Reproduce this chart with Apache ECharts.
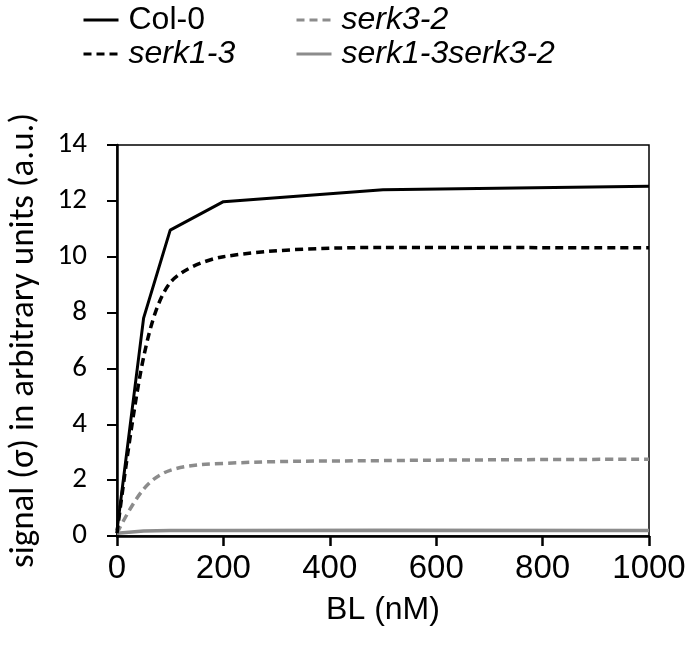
<!DOCTYPE html>
<html>
<head>
<meta charset="utf-8">
<script src="https://cdn.jsdelivr.net/npm/echarts@6/dist/echarts.min.js"></script>
<style>html,body{margin:0;padding:0;background:#fff}#c{width:697px;height:657px}</style>
</head>
<body>
<div id="c"></div>
<script>
const doses = [0, 50, 100, 200, 500, 1000];
const col0 = [0.2, 7.8, 10.95, 11.97, 12.4, 12.52];
const serk13 = [0.1, 6.4, 9.07, 10.0, 10.33, 10.32];
const serk32 = [0.1, 1.68, 2.35, 2.6, 2.7, 2.75];
const serk13serk32 = [0.1, 0.18, 0.2, 0.2, 0.21, 0.2];
const xTicks = [0, 200, 400, 600, 800, 1000];
const yTicks = [0, 2, 4, 6, 8, 10, 12, 14];

const pairs = v => doses.map((d, i) => [d, v[i]]);
const grey = '#8c8c8c';
const sansX = "'Liberation Sans', Arial, sans-serif";
const sansY = "Carlito, Lato, 'Open Sans', sans-serif";

const chart = echarts.init(document.getElementById('c'), null, {renderer: 'canvas'});
const legendText = {fontFamily: sansX, fontSize: 32, color: '#000', lineHeight: 34, padding: [0, 0, 0, 5]};
const legendCommon = {orient: 'vertical', top: -2, itemWidth: 35, itemHeight: 8, itemGap: 0,
  itemStyle: {opacity: 0}, lineStyle: {width: 3}};
chart.setOption({
  animation: false,
  backgroundColor: '#fff',
  grid: {left: 117, right: 48, top: 145, bottom: 121, outerBoundsMode: 'none',
    show: true, borderColor: '#000', borderWidth: 1.5},
  legend: [
    Object.assign({left: 77, textStyle: legendText,
      data: [{name: 'Col-0'}, {name: 'serk1-3', textStyle: {fontStyle: 'italic'}}]}, legendCommon),
    Object.assign({left: 290, textStyle: Object.assign({}, legendText, {fontStyle: 'italic'}),
      data: [{name: 'serk3-2'}, {name: 'serk1-3serk3-2'}]}, legendCommon)
  ],
  xAxis: {
    type: 'value', min: 0, max: 1000, interval: 200,
    name: 'BL (nM)', nameLocation: 'middle', nameGap: 58,
    nameTextStyle: {fontFamily: sansX, fontSize: 32, color: '#000'},
    axisLine: {show: true, onZero: false, lineStyle: {color: '#000', width: 2.5}},
    axisTick: {show: true, inside: false, length: 10, lineStyle: {color: '#000', width: 2.5}},
    axisLabel: {margin: 16, fontFamily: sansX, fontSize: 33, color: '#000',
      formatter: v => xTicks.includes(v) ? String(v) : ''},
    splitLine: {show: false}
  },
  yAxis: {
    type: 'value', min: 0, max: 14, interval: 2,
    name: 'signal (σ) in arbitrary units (a.u.)', nameLocation: 'middle', nameGap: 75, nameRotate: 90,
    nameTextStyle: {fontFamily: sansY, fontSize: 35, color: '#000'},
    axisLine: {show: true, onZero: false, lineStyle: {color: '#000', width: 2.5}},
    axisTick: {show: true, inside: false, length: 10, lineStyle: {color: '#000', width: 2}},
    axisLabel: {margin: 30, fontFamily: sansY, fontSize: 29, color: '#000',
      formatter: v => yTicks.includes(v) ? String(v) : ''},
    splitLine: {show: false}
  },
  series: [
    {name: 'Col-0', type: 'line', data: pairs(col0), symbol: 'none', z: 4,
     lineStyle: {color: '#000', width: 3, type: 'solid'}, itemStyle: {color: '#000'}},
    {name: 'serk1-3', type: 'line', data: pairs(serk13), symbol: 'none', smooth: 0.3, z: 3,
     lineStyle: {color: '#000', width: 3.5, type: [8, 5]}, itemStyle: {color: '#000'}},
    {name: 'serk3-2', type: 'line', data: pairs(serk32), symbol: 'none', smooth: 0.35, z: 2,
     lineStyle: {color: grey, width: 3.5, type: [8, 5]}, itemStyle: {color: grey}},
    {name: 'serk1-3serk3-2', type: 'line', data: pairs(serk13serk32), symbol: 'none', z: 2,
     lineStyle: {color: grey, width: 3.5, type: 'solid'}, itemStyle: {color: grey}}
  ]
});
</script>
</body>
</html>
